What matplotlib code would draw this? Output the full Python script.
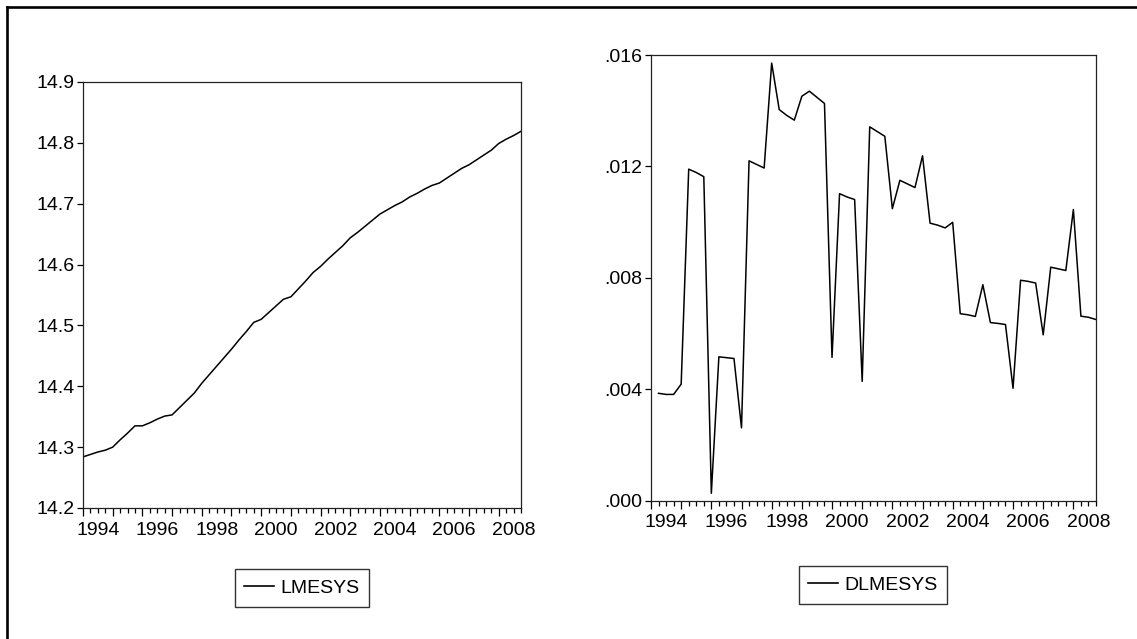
import numpy as np
import matplotlib
matplotlib.use("Agg")
import matplotlib.pyplot as plt
from matplotlib.lines import Line2D
from matplotlib.ticker import MultipleLocator, FixedLocator, FuncFormatter, NullFormatter

plt.rcParams['font.family'] = ['Liberation Sans', 'DejaVu Sans']

# quarterly sample 1994Q1 - 2008Q4
first_year = 1994
n_quarters = 60

# log level, 1994Q1 .. 2008Q4
lmesys = [14.284, 14.288, 14.292, 14.295, 14.300, 14.312, 14.323, 14.335,
          14.335, 14.340, 14.346, 14.351, 14.353, 14.365, 14.377, 14.389,
          14.405, 14.419, 14.433, 14.447, 14.461, 14.476, 14.490, 14.505,
          14.510, 14.521, 14.532, 14.543, 14.547, 14.560, 14.573, 14.587,
          14.597, 14.609, 14.620, 14.631, 14.644, 14.653, 14.663, 14.673,
          14.683, 14.690, 14.697, 14.703, 14.711, 14.717, 14.724, 14.730,
          14.734, 14.742, 14.750, 14.758, 14.764, 14.772, 14.780, 14.788,
          14.799, 14.806, 14.812, 14.819]

# first difference, 1994Q2 .. 2008Q4
dlmesys = [0.00385, 0.00381, 0.00381, 0.00418, 0.01190, 0.01178, 0.01163,
           0.00026, 0.00516, 0.00513, 0.00510, 0.00261, 0.01220, 0.01207,
           0.01194, 0.01571, 0.01404, 0.01383, 0.01366, 0.01452, 0.01470,
           0.01448, 0.01426, 0.00514, 0.01102, 0.01090, 0.01081, 0.00428,
           0.01342, 0.01325, 0.01308, 0.01048, 0.01150, 0.01137, 0.01124,
           0.01238, 0.00996, 0.00989, 0.00979, 0.00999, 0.00671, 0.00667,
           0.00661, 0.00775, 0.00639, 0.00636, 0.00632, 0.00403, 0.00791,
           0.00787, 0.00781, 0.00595, 0.00838, 0.00832, 0.00826, 0.01045,
           0.00662, 0.00658, 0.00650]

year_labels = ['1994', '1996', '1998', '2000', '2002', '2004', '2006', '2008']

t_all = first_year + np.arange(n_quarters) / 4.0
t_diff = t_all[1:]

W, H = 1137, 639
fig = plt.figure(figsize=(W / 100, H / 100), dpi=100)
fs = 14


def px_axes(x0, y0, x1, y1):
    return fig.add_axes([x0 / W, 1 - y1 / H, (x1 - x0) / W, (y1 - y0) / H])


def mid_year_label(v, pos):
    yr = int(round(v - 0.5))
    if abs(v - yr - 0.5) < 1e-6 and str(yr) in year_labels:
        return str(yr)
    return ''


def style_axes(ax, ylim, yticks, yfmt):
    ax.set_xlim(t_all[0], t_all[-1])
    ax.set_ylim(*ylim)
    for sp in ax.spines.values():
        sp.set_linewidth(0.9)
        sp.set_color('#222222')
    ax.yaxis.set_major_locator(FixedLocator(yticks))
    ax.yaxis.set_major_formatter(FuncFormatter(yfmt))
    ax.tick_params(axis='y', direction='out', length=4.5, width=0.9,
                   labelsize=fs, pad=1.5)
    # year ticks long, quarter ticks short; labels sit mid-year
    ax.xaxis.set_major_locator(MultipleLocator(1.0))
    ax.xaxis.set_major_formatter(NullFormatter())
    ax.xaxis.set_minor_locator(MultipleLocator(0.25))
    ax.xaxis.set_minor_formatter(FuncFormatter(mid_year_label))
    ax.tick_params(axis='x', which='major', direction='out', length=6, width=0.9)
    ax.tick_params(axis='x', which='minor', direction='out', length=3.5, width=0.9,
                   labelsize=fs, pad=6.5)


def add_legend(ax, label, cx, cy):
    h = [Line2D([], [], color='black', lw=1.2)]
    leg = ax.legend(h, [label], loc='center', bbox_to_anchor=(cx / W, 1 - cy / H),
                    bbox_transform=fig.transFigure, fontsize=fs, frameon=True,
                    fancybox=False, shadow=False, handlelength=1.5,
                    handletextpad=0.35, borderpad=0.5, borderaxespad=0)
    leg.get_frame().set_edgecolor('black')
    leg.get_frame().set_linewidth(1.0)


# left panel: level
ax1 = px_axes(83, 82, 521, 508)
ax1.plot(t_all, lmesys, color='black', lw=1.1)
style_axes(ax1, (14.2, 14.9), [14.2, 14.3, 14.4, 14.5, 14.6, 14.7, 14.8, 14.9],
           lambda v, p: f'{v:.1f}')
add_legend(ax1, 'LMESYS', 302, 588)

# right panel: first difference
ax2 = px_axes(651, 55, 1096, 500.5)
ax2.plot(t_diff, dlmesys, color='black', lw=1.1)
style_axes(ax2, (0.0, 0.016), [0.0, 0.004, 0.008, 0.012, 0.016],
           lambda v, p: f'{v:.3f}'.lstrip('0'))
add_legend(ax2, 'DLMESYS', 873, 585)

# outer frame (left and top edges)
fig.add_artist(Line2D([7 / W, 7 / W], [0, 1 - 7 / H], transform=fig.transFigure,
                      color='black', lw=1.9, solid_capstyle='projecting'))
fig.add_artist(Line2D([7 / W, 1], [1 - 7 / H, 1 - 7 / H], transform=fig.transFigure,
                      color='black', lw=1.9, solid_capstyle='projecting'))

fig.savefig('out.png', dpi=100)
